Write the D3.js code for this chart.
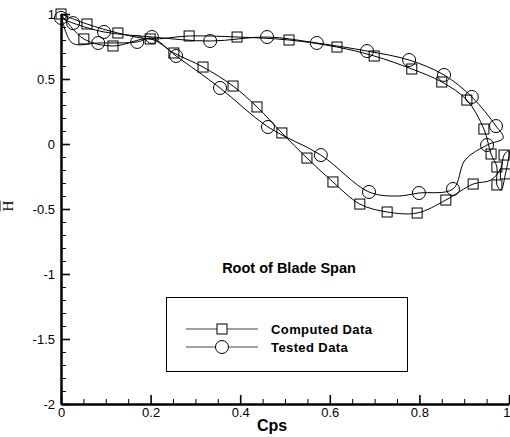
<!DOCTYPE html>
<html>
<head>
<meta charset="utf-8">
<script src="https://cdn.jsdelivr.net/npm/d3@7"></script>
<style>
  body { margin: 0; background: #fff; }
  text { font-family: "Liberation Sans", Arial, sans-serif; }
</style>
</head>
<body>
<svg id="chart" width="510" height="437"></svg>
<script>
// computed data loop (squares): x, y, and whether a marker sits on the point
const computedX = [0, 0.058, 0.127, 0.199, 0.286, 0.393, 0.509, 0.616, 0.699, 0.783, 0.850, 0.906, 0.944, 0.960, 0.973, 0.973, 0.982, 0.992, 1.0, 0.989, 0.982, 0.960, 0.920, 0.859, 0.795, 0.728, 0.667, 0.607, 0.549, 0.493, 0.4375, 0.384, 0.317, 0.252, 0.199, 0.116, 0.051, 0];
const computedY = [1.0, 0.923, 0.854, 0.808, 0.831, 0.823, 0.80, 0.746, 0.677, 0.577, 0.477, 0.338, 0.115, -0.077, -0.177, -0.315, -0.355, -0.23, -0.05, -0.085, -0.185, -0.277, -0.308, -0.431, -0.531, -0.523, -0.462, -0.292, -0.108, 0.085, 0.285, 0.446, 0.592, 0.70, 0.808, 0.754, 0.808, 1.0];
const computedMark = [1, 1, 1, 1, 1, 1, 1, 1, 1, 1, 1, 1, 1, 1, 1, 1, 0, 1, 0, 1, 0, 0, 1, 1, 1, 1, 1, 1, 1, 1, 1, 1, 1, 1, 0, 1, 1, 0];

// tested data loop (circles)
const testedX = [0, 0.027, 0.096, 0.203, 0.333, 0.46, 0.571, 0.683, 0.777, 0.855, 0.917, 0.971, 0.987, 0.951, 0.902, 0.875, 0.799, 0.752, 0.6875, 0.58, 0.462, 0.355, 0.257, 0.203, 0.17, 0.083, 0.025, 0];
const testedY = [0.97, 0.93, 0.862, 0.823, 0.792, 0.823, 0.777, 0.715, 0.646, 0.531, 0.362, 0.138, 0.046, -0.008, -0.123, -0.346, -0.377, -0.40, -0.369, -0.085, 0.131, 0.431, 0.677, 0.815, 0.785, 0.777, 0.777, 1.0];
const testedMark = [1, 1, 1, 1, 1, 1, 1, 1, 1, 1, 1, 1, 0, 1, 0, 1, 1, 0, 1, 1, 1, 1, 1, 0, 1, 1, 0, 0];

const xMajor = [0, 0.2, 0.4, 0.6, 0.8, 1];
const yMajor = [-2, -1.5, -1, -0.5, 0, 0.5, 1];
const seriesNames = ["Computed Data", "Tested Data"];

const svg = d3.select("#chart");
const x = d3.scaleLinear().domain([0, 1]).range([61, 509]);
const y = d3.scaleLinear().domain([-2, 1]).range([404, 14]);

// minor ticks
const xMinor = d3.range(0, 1.0001, 0.05).filter(v => !xMajor.some(m => Math.abs(m - v) < 1e-6));
const yMinor = d3.range(-2, 1.0001, 0.1).filter(v => !yMajor.some(m => Math.abs(m - v) < 1e-6));

svg.append("g")
  .attr("transform", "translate(0,404)")
  .call(d3.axisBottom(x).tickValues(xMinor).tickSize(-5).tickSizeOuter(0).tickFormat(""))
  .call(g => g.select(".domain").remove());
svg.append("g")
  .attr("transform", "translate(61,0)")
  .call(d3.axisLeft(y).tickValues(yMinor).tickSize(-5).tickSizeOuter(0).tickFormat(""))
  .call(g => g.select(".domain").remove());

const xAxis = svg.append("g")
  .attr("transform", "translate(0,404)")
  .call(d3.axisBottom(x).tickValues(xMajor).tickSize(-9).tickSizeOuter(0).tickPadding(3).tickFormat(d => String(d)));
const yAxis = svg.append("g")
  .attr("transform", "translate(61,0)")
  .call(d3.axisLeft(y).tickValues(yMajor).tickSize(-9).tickSizeOuter(0).tickPadding(6).tickFormat(d => String(d)));

[xAxis, yAxis].forEach(a => {
  a.select(".domain").attr("stroke-width", 2.5);
  a.selectAll(".tick line").attr("stroke-width", 1.6);
  a.selectAll(".tick text").style("font-size", "13px").attr("fill", "#000");
});
xAxis.selectAll(".tick text").attr("dy", "0.8em");
// last label sits on the window edge
xAxis.selectAll(".tick text").filter(d => d === 1).attr("text-anchor", "end").attr("x", 1);
svg.selectAll(".tick line").attr("stroke", "#000");

// axis titles
svg.append("text")
  .attr("x", 272).attr("y", 431)
  .attr("text-anchor", "middle")
  .style("font-size", "16px").style("font-weight", "bold")
  .text("Cps");

svg.append("text")
  .attr("transform", "translate(13,206) rotate(-90)")
  .attr("text-anchor", "middle")
  .style("font-family", "'Liberation Serif', serif")
  .style("font-size", "15px")
  .style("text-decoration", "overline")
  .text("H");

// curves
const line = d3.line()
  .x(d => x(d[0]))
  .y(d => y(d[1]))
  .curve(d3.curveCatmullRom.alpha(0.5));

const computed = computedX.map((v, i) => [v, computedY[i], computedMark[i]]);
const tested = testedX.map((v, i) => [v, testedY[i], testedMark[i]]);

svg.append("path")
  .datum(computed)
  .attr("d", line)
  .attr("fill", "none").attr("stroke", "#000").attr("stroke-width", 1);
svg.append("path")
  .datum(tested)
  .attr("d", line)
  .attr("fill", "none").attr("stroke", "#000").attr("stroke-width", 1);

svg.selectAll("rect.mark")
  .data(computed.filter(d => d[2]))
  .enter().append("rect")
  .attr("class", "mark")
  .attr("x", d => x(d[0]) - 5)
  .attr("y", d => y(d[1]) - 5)
  .attr("width", 10).attr("height", 10)
  .attr("fill", "none").attr("stroke", "#000");

svg.selectAll("circle.mark")
  .data(tested.filter(d => d[2]))
  .enter().append("circle")
  .attr("class", "mark")
  .attr("cx", d => x(d[0]))
  .attr("cy", d => y(d[1]))
  .attr("r", 6.5)
  .attr("fill", "none").attr("stroke", "#000");

// title
svg.append("text")
  .attr("x", 289).attr("y", 273)
  .attr("text-anchor", "middle")
  .style("font-size", "14.5px").style("font-weight", "bold")
  .text("Root of Blade Span");

// legend
const legend = svg.append("g");
legend.append("rect")
  .attr("x", 166.5).attr("y", 297.5)
  .attr("width", 241).attr("height", 74)
  .attr("fill", "#fff").attr("stroke", "#000");

seriesNames.forEach((name, i) => {
  const ly = 329 + i * 18;
  legend.append("line")
    .attr("x1", 186).attr("x2", 258)
    .attr("y1", ly).attr("y2", ly)
    .attr("stroke", "#444");
  if (i === 0) {
    legend.append("rect")
      .attr("x", 217).attr("y", ly - 5)
      .attr("width", 10).attr("height", 10)
      .attr("fill", "#fff").attr("stroke", "#000");
  } else {
    legend.append("circle")
      .attr("cx", 222).attr("cy", ly).attr("r", 6.5)
      .attr("fill", "#fff").attr("stroke", "#000");
  }
  legend.append("text")
    .attr("x", 271).attr("y", ly + 5)
    .style("font-size", "13px").style("font-weight", "bold")
    .style("letter-spacing", "0.4px")
    .text(name);
});
</script>
</body>
</html>
